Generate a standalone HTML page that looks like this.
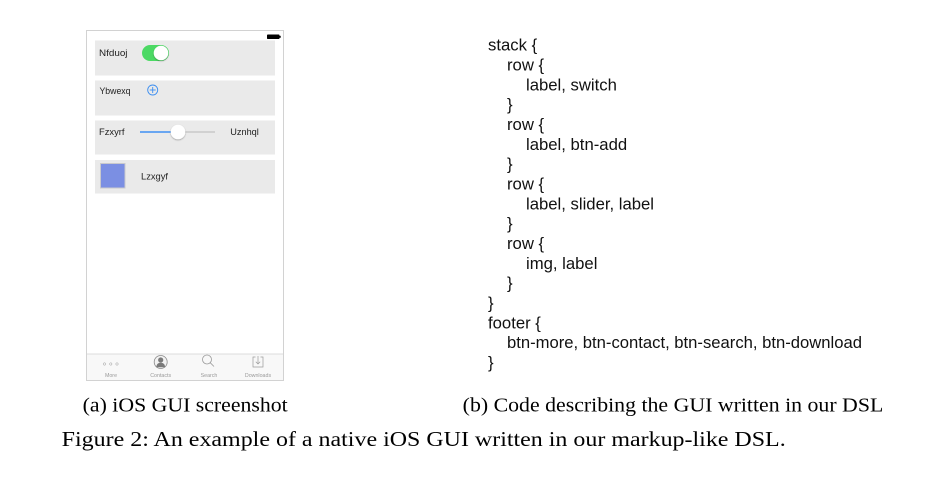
<!DOCTYPE html>
<html>
<head>
<meta charset="utf-8">
<style>
  html,body{margin:0;padding:0;background:#fff;}
  svg{display:block;}
  .code{font-family:"Liberation Sans",Arial,sans-serif;font-size:16.7px;fill:#111;}
  .ui{font-family:"Liberation Sans",Arial,sans-serif;fill:#222;}
  .cap{font-family:"Liberation Serif","Times New Roman",serif;fill:#000;}
  .ft{font-family:"Liberation Sans",Arial,sans-serif;font-size:5.3px;fill:#9a9a9a;}
</style>
</head>
<body>
<svg width="937" height="484" viewBox="0 0 937 484" xmlns="http://www.w3.org/2000/svg">
  <defs>
    <filter id="sh" x="-50%" y="-50%" width="200%" height="200%">
      <feDropShadow dx="0" dy="0.8" stdDeviation="0.8" flood-color="#000" flood-opacity="0.35"/>
    </filter>
  </defs>
  <rect x="0" y="0" width="937" height="484" fill="#fff"/>

  <!-- Phone frame -->
  <rect x="86.5" y="30.5" width="197" height="350" fill="#fff" stroke="#d2d2d2" stroke-width="1"/>
  <!-- battery -->
  <rect x="267" y="34.5" width="12.5" height="4.5" rx="0.8" fill="#000"/>
  <rect x="279.5" y="35.8" width="1.2" height="2" fill="#000"/>

  <!-- rows -->
  <rect x="95" y="40.5" width="180" height="35" fill="#eaeaea"/>
  <rect x="95" y="80.5" width="180" height="35" fill="#eaeaea"/>
  <rect x="95" y="120.5" width="180" height="34" fill="#eaeaea"/>
  <rect x="95" y="160" width="180" height="33.5" fill="#eaeaea"/>

  <!-- row 1 -->
  <text class="ui" x="99" y="56" font-size="9.3" textLength="28.5" lengthAdjust="spacingAndGlyphs">Nfduoj</text>
  <rect x="142" y="45" width="27" height="16" rx="8" fill="#4cd964"/>
  <circle cx="161" cy="53" r="7.3" fill="#fff" filter="url(#sh)"/>

  <!-- row 2 -->
  <text class="ui" x="99.5" y="94" font-size="9.3" textLength="31" lengthAdjust="spacingAndGlyphs">Ybwexq</text>
  <circle cx="152.7" cy="90" r="5" fill="none" stroke="#3d8ef0" stroke-width="0.9"/>
  <line x1="149.7" y1="90" x2="155.7" y2="90" stroke="#3d8ef0" stroke-width="0.9"/>
  <line x1="152.7" y1="87" x2="152.7" y2="93" stroke="#3d8ef0" stroke-width="0.9"/>

  <!-- row 3 -->
  <text class="ui" x="99" y="135" font-size="9.3" textLength="25.5" lengthAdjust="spacingAndGlyphs">Fzxyrf</text>
  <line x1="140" y1="132" x2="178" y2="132" stroke="#1c7ef5" stroke-width="1.2"/>
  <line x1="178" y1="132" x2="215" y2="132" stroke="#b8b8b8" stroke-width="1"/>
  <circle cx="178" cy="132" r="7.3" fill="#fff" filter="url(#sh)"/>
  <text class="ui" x="230.3" y="135" font-size="9.3" textLength="28.5" lengthAdjust="spacingAndGlyphs">Uznhql</text>

  <!-- row 4 -->
  <rect x="100" y="163" width="25.5" height="25.5" fill="#c9c9cc"/>
  <rect x="101" y="164" width="23.5" height="23.5" fill="#7b8fe3"/>
  <text class="ui" x="141" y="179.5" font-size="9.3" textLength="27" lengthAdjust="spacingAndGlyphs">Lzxgyf</text>

  <!-- footer -->
  <rect x="87" y="354" width="196" height="26" fill="#f8f8f8"/>
  <line x1="87" y1="354" x2="283" y2="354" stroke="#dcdcdc" stroke-width="1"/>
  <!-- more -->
  <circle cx="104.5" cy="364" r="1.2" fill="none" stroke="#9a9a9a" stroke-width="0.5"/>
  <circle cx="110.8" cy="364" r="1.2" fill="none" stroke="#9a9a9a" stroke-width="0.5"/>
  <circle cx="117" cy="364" r="1.2" fill="none" stroke="#9a9a9a" stroke-width="0.5"/>
  <text class="ft" x="111" y="377" text-anchor="middle">More</text>
  <!-- contacts -->
  <circle cx="160.7" cy="362" r="6.5" fill="#f2f2f2" stroke="#8a8a8a" stroke-width="0.8"/>
  <circle cx="160.7" cy="360" r="2.6" fill="#7a7a7a"/>
  <path d="M156.2 367.2 Q156.5 362.8 160.7 362.8 Q164.9 362.8 165.2 367.2 Z" fill="#7a7a7a"/>
  <text class="ft" x="160.7" y="377" text-anchor="middle">Contacts</text>
  <!-- search -->
  <circle cx="207" cy="359.5" r="4.5" fill="none" stroke="#9a9a9a" stroke-width="0.8"/>
  <line x1="210.2" y1="362.7" x2="214" y2="366.5" stroke="#9a9a9a" stroke-width="0.8"/>
  <text class="ft" x="209" y="377" text-anchor="middle">Search</text>
  <!-- downloads -->
  <path d="M255.5 357 H253 V367 H263 V357 H260.5" fill="none" stroke="#9a9a9a" stroke-width="0.7"/>
  <line x1="258" y1="356" x2="258" y2="364" stroke="#9a9a9a" stroke-width="0.7"/>
  <path d="M255.8 361.8 L258 364 L260.2 361.8" fill="none" stroke="#9a9a9a" stroke-width="0.7"/>
  <text class="ft" x="258" y="377" text-anchor="middle">Downloads</text>

  <!-- code -->
  <text class="code" x="488" y="50.7">stack {</text>
  <text class="code" x="507" y="70.5">row {</text>
  <text class="code" x="526" y="90.4">label, switch</text>
  <text class="code" x="507" y="110.2">}</text>
  <text class="code" x="507" y="130.0">row {</text>
  <text class="code" x="526" y="149.9">label, btn-add</text>
  <text class="code" x="507" y="169.7">}</text>
  <text class="code" x="507" y="189.5">row {</text>
  <text class="code" x="526" y="209.3">label, slider, label</text>
  <text class="code" x="507" y="229.2">}</text>
  <text class="code" x="507" y="249.0">row {</text>
  <text class="code" x="526" y="268.8">img, label</text>
  <text class="code" x="507" y="288.7">}</text>
  <text class="code" x="488" y="308.5">}</text>
  <text class="code" x="488" y="328.3">footer {</text>
  <text class="code" x="507" y="348.2" textLength="355" lengthAdjust="spacingAndGlyphs">btn-more, btn-contact, btn-search, btn-download</text>
  <text class="code" x="488" y="368.0">}</text>

  <!-- captions -->
  <text class="cap" x="82.7" y="411.5" font-size="19.5" textLength="205" lengthAdjust="spacingAndGlyphs">(a) iOS GUI screenshot</text>
  <text class="cap" x="462.7" y="411.5" font-size="19.5" textLength="420.6" lengthAdjust="spacingAndGlyphs">(b) Code describing the GUI written in our DSL</text>
  <text class="cap" x="61.7" y="446" font-size="21.5" textLength="724" lengthAdjust="spacingAndGlyphs">Figure 2: An example of a native iOS GUI written in our markup-like DSL.</text>
</svg>
</body>
</html>
